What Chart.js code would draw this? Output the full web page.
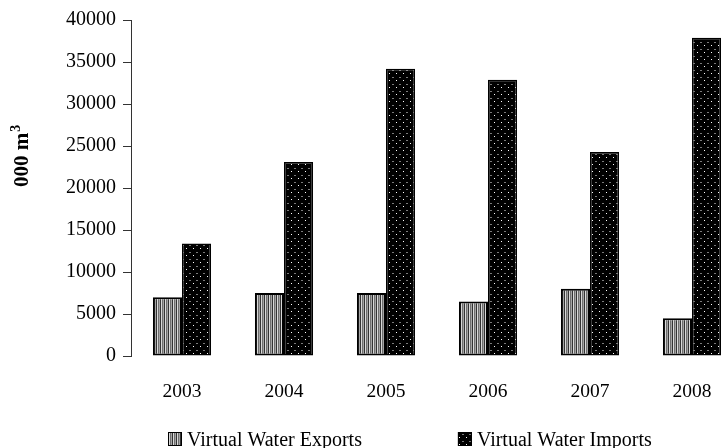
<!DOCTYPE html>
<html>
<head>
<meta charset="utf-8">
<script src="https://cdn.jsdelivr.net/npm/chart.js@4.4.0/dist/chart.umd.min.js"></script>
<style>
  html, body { margin: 0; padding: 0; background: #fff; overflow: hidden; }
  #wrap { width: 721px; height: 448px; overflow: hidden; }
  canvas { display: block; }
</style>
</head>
<body>
<div id="wrap"><canvas id="c" width="760" height="448"></canvas></div>
<script>
// Virtual water trade, thousand cubic metres per year
const years = ['2003', '2004', '2005', '2006', '2007', '2008'];
const exportsVW = [7000, 7500, 7500, 6500, 8000, 4500];
const importsVW = [13400, 23100, 34200, 32900, 24300, 37900];
const yTicks = [0, 5000, 10000, 15000, 20000, 25000, 30000, 35000, 40000];
const seriesNames = ['Virtual Water Exports', 'Virtual Water Imports'];
const yTitleMain = '000 m';
const yTitleSup = '3';

const FONT = "'Liberation Serif', 'Times New Roman', serif";

// vertical hatch fill
function stripePattern(ctx) {
  const c = document.createElement('canvas');
  c.width = 4; c.height = 4;
  const g = c.getContext('2d');
  ['#333333', '#d8d8d8', '#6e6e6e', '#a4a4a4'].forEach((col, i) => {
    g.fillStyle = col; g.fillRect(i, 0, 1, 4);
  });
  return ctx.createPattern(c, 'repeat');
}

// black fill with staggered dots
function dotPattern(ctx) {
  const c = document.createElement('canvas');
  c.width = 7; c.height = 7;
  const g = c.getContext('2d');
  g.fillStyle = '#000'; g.fillRect(0, 0, 7, 7);
  g.fillStyle = '#7a7a7a'; g.fillRect(0, 0, 2, 1);
  g.fillStyle = '#ffffff'; g.fillRect(4, 3, 1, 1);
  return ctx.createPattern(c, 'repeat');
}

const canvas = document.getElementById('c');
const ctx = canvas.getContext('2d');
const fills = [stripePattern(ctx), dotPattern(ctx)];

// rotated axis title beside the value axis, with a superscript exponent
const axisTitlePlugin = {
  id: 'axisTitle',
  afterDraw(chart) {
    const g = chart.ctx;
    g.save();
    g.translate(28, 187);
    g.rotate(-Math.PI / 2);
    g.fillStyle = '#000';
    g.textAlign = 'left';
    g.textBaseline = 'alphabetic';
    g.font = 'bold 21px ' + FONT;
    g.fillText(yTitleMain, 0, 0);
    const w = g.measureText(yTitleMain).width;
    g.font = 'bold 14px ' + FONT;
    g.fillText(yTitleSup, w + 1, -8);
    g.restore();
  }
};

// legend row under the category axis, swatches use the bar fills
const legendRowPlugin = {
  id: 'legendRow',
  afterDraw(chart) {
    const g = chart.ctx;
    g.save();
    g.font = '20px ' + FONT;
    g.textBaseline = 'alphabetic';
    let x = 168;
    const boxTop = 432, box = 14, baseline = 446;
    chart.data.datasets.forEach((ds) => {
      g.fillStyle = ds.backgroundColor;
      g.fillRect(x, boxTop, box, box);
      g.strokeStyle = '#000';
      g.lineWidth = 1;
      g.strokeRect(x + 0.5, boxTop + 0.5, box - 1, box - 1);
      g.fillStyle = '#000';
      const tx = x + box + 5;
      g.fillText(ds.label, tx, baseline);
      x = tx + g.measureText(ds.label).width + 96;
    });
    g.restore();
  }
};

new Chart(canvas, {
  type: 'bar',
  data: {
    labels: years,
    datasets: [
      {
        label: seriesNames[0],
        data: exportsVW,
        backgroundColor: fills[0],
        borderColor: '#000',
        borderWidth: 2,
        borderSkipped: false,
        categoryPercentage: 0.57,
        barPercentage: 1.0
      },
      {
        label: seriesNames[1],
        data: importsVW,
        backgroundColor: fills[1],
        borderColor: '#000',
        borderWidth: 1.5,
        borderSkipped: false,
        categoryPercentage: 0.57,
        barPercentage: 1.0
      }
    ]
  },
  options: {
    responsive: false,
    animation: false,
    devicePixelRatio: 1,
    layout: { padding: { left: 0, top: 20, right: 17, bottom: 0 } },
    plugins: {
      legend: { display: false },
      tooltip: { enabled: false }
    },
    scales: {
      x: {
        grid: { display: false, drawTicks: false },
        border: { display: false },
        ticks: {
          color: '#000',
          font: { family: FONT, size: 19.5 },
          padding: 24,
          maxRotation: 0
        },
        afterFit(scale) { scale.height = 92; }
      },
      y: {
        min: 0,
        max: 40000,
        afterBuildTicks(scale) { scale.ticks = yTicks.map(v => ({ value: v })); },
        grid: {
          display: true,
          drawOnChartArea: false,
          drawTicks: true,
          tickLength: 8,
          color: '#333',
          lineWidth: 1
        },
        border: { display: true, color: '#333', width: 1 },
        ticks: {
          color: '#000',
          font: { family: FONT, size: 20 },
          padding: 7,
          callback: (v) => String(v)
        },
        afterFit(scale) { scale.width = 131; }
      }
    }
  },
  plugins: [axisTitlePlugin, legendRowPlugin]
});
</script>
</body>
</html>
